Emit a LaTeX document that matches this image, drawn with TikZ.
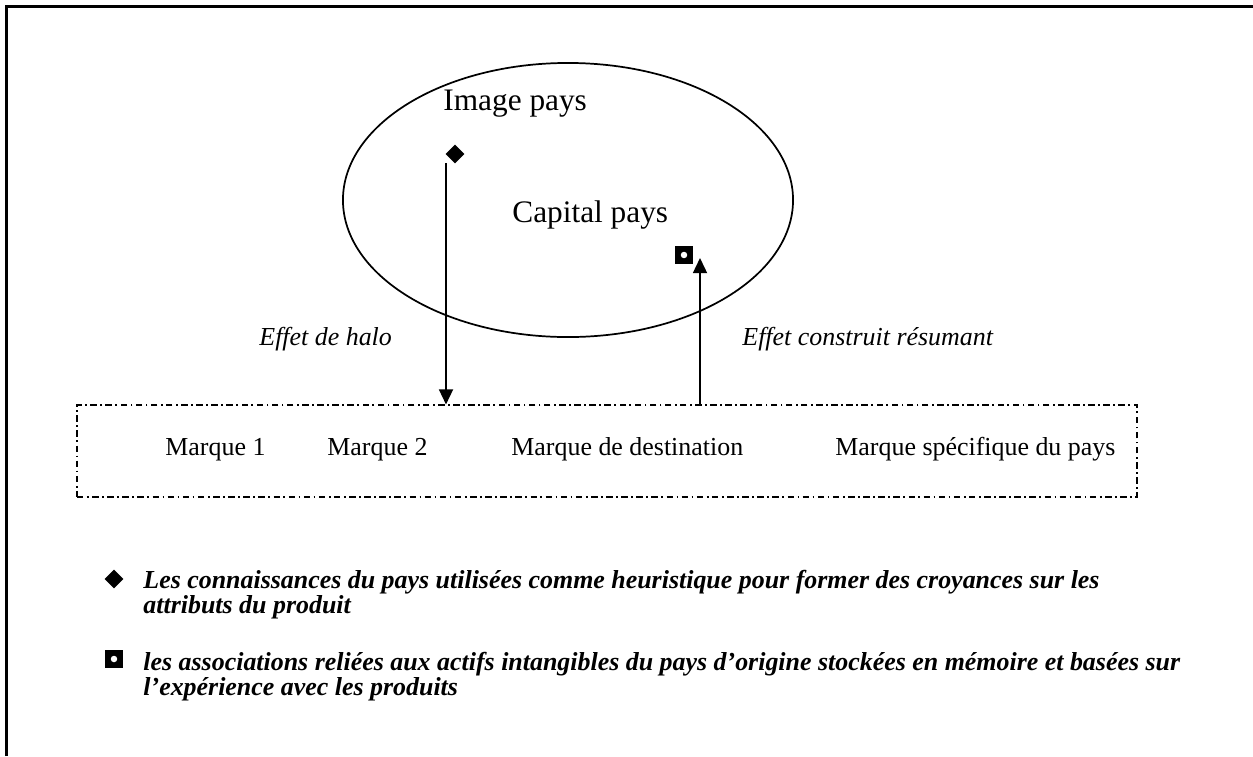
\documentclass[tikz,border=0pt]{standalone}
\usepackage{fontspec}
\setmainfont{Liberation Serif}
\usetikzlibrary{arrows.meta,shapes.geometric,positioning,calc}

\begin{document}
\begin{tikzpicture}[x=0.463pt, y=-0.463pt,
    big/.style={font=\fontsize{14.5}{17}\selectfont, inner sep=0pt, anchor=base west},
    marque/.style={font=\fontsize{12}{14}\selectfont, inner sep=0pt, anchor=base west},
    effet/.style={font=\fontsize{12}{14}\selectfont\itshape, inner sep=0pt, anchor=base west},
    legtext/.style={font=\fontsize{12}{14}\selectfont\bfseries\itshape, inner sep=0pt, anchor=base west},
    losange/.style={diamond, fill=black, inner sep=0pt, minimum size=8.8pt},
    carre/.style={fill=black, inner sep=0pt, minimum size=8.3pt,
        path picture={\fill[white] (path picture bounding box.center) circle (1.5pt);}},
    fleche/.style={line width=0.8pt, -{Triangle[length=7pt,width=6.5pt]}},
    cadre/.style={draw, line width=0.5pt, dash pattern=on 3pt off 1.6pt on 0.8pt off 1.6pt}]

\useasboundingbox (0,0) rectangle (1253,756);

% cadre extérieur (gauche et haut seulement)
\draw[line width=1pt] (6.5,756) -- (6.5,6.5) -- (1253,6.5);

% ellipse : image pays / capital pays
\node[draw, ellipse, line width=0.8pt, minimum width=208.4pt, minimum height=126.9pt] (pays) at (568,200) {};
\node[big] (image) at (443,110) {Image pays};
\node[big] (capital) at (512,222) {Capital pays};
\node[losange] (losImage) at (455,154) {};
\node[carre] (carreCap) at (684,255) {};

% cadre des marques
\node[cadre, minimum width=490.8pt, minimum height=42.6pt] (marques) at (607,451) {};
\node[marque] (m1) at (165,455) {Marque 1};
\node[marque] (m2) at (327,455) {Marque 2};
\node[marque] (mdest) at (511,455) {Marque de destination};
\node[marque] (mspec) at (835,455) {Marque spécifique du pays};

% effets
\coordinate (haloDep) at (446,163);
\coordinate (resArr) at (700,258);
\draw[fleche] (haloDep) -- (haloDep |- marques.north);
\draw[fleche] (resArr |- marques.north) -- (resArr);
\node[effet] (halo) at (259,345) {Effet de halo};
\node[effet] (construit) at (742,345) {Effet construit résumant};

% légende
\node[losange] (legLos) at (114,579) {};
\node[legtext] (leg1a) at (143,588) {Les connaissances du pays utilisées comme heuristique pour former des croyances sur les};
\node[legtext] (leg1b) at (143,613) {attributs du produit};
\node[carre] (legCarre) at (114,659) {};
\node[legtext] (leg2a) at (143,670) {les associations reliées aux actifs intangibles du pays d’origine stockées en mémoire et basées sur};
\node[legtext] (leg2b) at (143,695) {l’expérience avec les produits};

\end{tikzpicture}
\end{document}
